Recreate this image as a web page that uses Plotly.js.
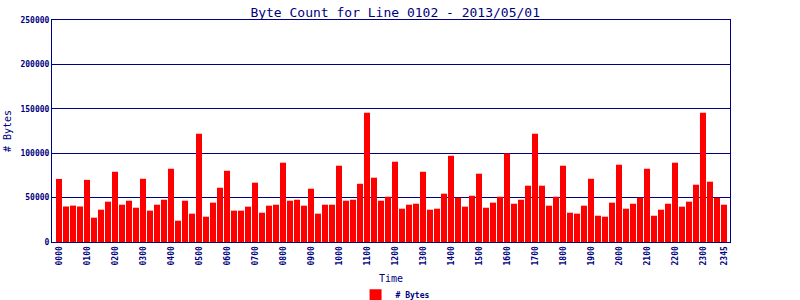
<!DOCTYPE html>
<html>
<head>
<meta charset="utf-8">
<script src="https://cdn.plot.ly/plotly-3.0.1.min.js"></script>
<style>
html,body{margin:0;padding:0;background:#fff;}
#chart{width:800px;height:300px;}
</style>
</head>
<body>
<div id="chart"></div>
<script>
const times = [
"0000","0015","0030","0045","0100","0115","0130","0145",
"0200","0215","0230","0245","0300","0315","0330","0345",
"0400","0415","0430","0445","0500","0515","0530","0545",
"0600","0615","0630","0645","0700","0715","0730","0745",
"0800","0815","0830","0845","0900","0915","0930","0945",
"1000","1015","1030","1045","1100","1115","1130","1145",
"1200","1215","1230","1245","1300","1315","1330","1345",
"1400","1415","1430","1445","1500","1515","1530","1545",
"1600","1615","1630","1645","1700","1715","1730","1745",
"1800","1815","1830","1845","1900","1915","1930","1945",
"2000","2015","2030","2045","2100","2115","2130","2145",
"2200","2215","2230","2245","2300","2315","2330","2345"];

const bytes = [
71000,40000,41000,40000,70000,27400,36400,45400,
79100,42000,46500,38600,71200,35300,42000,47600,
82500,24000,46500,31900,121900,28500,44300,61100,
80200,35300,35300,39800,66800,33000,40900,42000,
89300,46500,47600,40900,60000,31900,42000,42000,
85900,46500,47600,65600,145500,72400,46500,51000,
90400,37500,42000,43100,79100,36400,37500,54400,
97100,49900,39800,52100,76900,38600,44300,51000,
99800,43100,47600,63400,121900,63400,40900,51000,
85900,33000,31900,40900,71200,29600,28500,44300,
87000,37500,43100,49900,82500,29600,36400,43100,
89300,39800,45400,64500,145500,67900,49900,42000];

const tickLabels = ["0000","0100","0200","0300","0400","0500","0600","0700",
"0800","0900","1000","1100","1200","1300","1400","1500","1600","1700",
"1800","1900","2000","2100","2200","2300","2345"];

const navy = "#000080";
const mono = "DejaVu Sans Mono, Liberation Mono, monospace";

const trace = {
  type: "bar",
  x: times,
  y: bytes,
  name: "# Bytes",
  marker: {color: "#ff0000"},
  showlegend: true,
  hoverinfo: "x+y"
};

const layout = {
  width: 800, height: 300,
  margin: {l: 52, r: 70, t: 20, b: 58, autoexpand: false},
  paper_bgcolor: "#ffffff",
  plot_bgcolor: "#ffffff",
  bargap: 0.14,
  title: {
    text: "Byte Count for Line 0102 - 2013/05/01",
    font: {family: mono, size: 13, color: navy},
    x: 0.494, xanchor: "center",
    y: 0.975, yanchor: "top"
  },
  xaxis: {
    type: "category",
    categoryorder: "array",
    categoryarray: times,
    range: [-1, 95.86],
    tickmode: "array",
    tickvals: tickLabels,
    ticktext: tickLabels,
    tickangle: -90,
    ticks: "",
    tickfont: {family: mono, size: 8, color: navy, weight: "bold"},
    showline: true, linecolor: navy, linewidth: 1, mirror: true,
    showgrid: false, zeroline: false,
    automargin: false,
    title: {text: "Time", font: {family: mono, size: 10, color: navy}, standoff: 10}
  },
  yaxis: {
    range: [0, 250000],
    tickmode: "linear", tick0: 0, dtick: 50000,
    tickformat: "d",
    ticks: "",
    tickfont: {family: mono, size: 8, color: navy, weight: "bold"},
    showline: true, linecolor: navy, linewidth: 1, mirror: true,
    showgrid: true, gridcolor: navy, gridwidth: 1,
    zeroline: false,
    automargin: false,
    title: {text: "# Bytes", font: {family: mono, size: 10, color: navy}, standoff: 6}
  },
  showlegend: true,
  legend: {
    orientation: "h",
    x: 0.506, xanchor: "center",
    y: -0.24, yanchor: "middle",
    font: {family: mono, size: 8, color: navy, weight: "bold"},
    bgcolor: "rgba(0,0,0,0)",
    itemwidth: 30
  }
};

Plotly.newPlot("chart", [trace], layout, {displayModeBar: false, staticPlot: true});
</script>
</body>
</html>
